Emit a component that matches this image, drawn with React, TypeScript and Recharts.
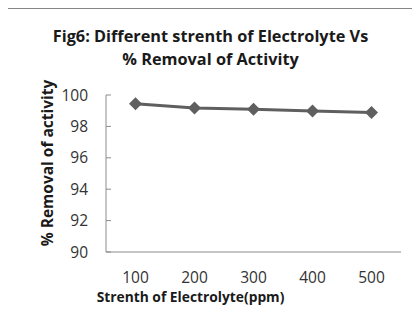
import React from 'react';
import { LineChart, Line, XAxis, YAxis } from 'recharts';

const categories = [100, 200, 300, 400, 500];
const removal = [99.45, 99.17, 99.09, 98.98, 98.88];
const yTicks = [90, 92, 94, 96, 98, 100];
const boundaryTicks = [50, 150, 250, 350, 450, 550];
const titleLines = ['Fig6: Different strenth of Electrolyte Vs', '% Removal of Activity'];
const xTitle = 'Strenth of Electrolyte(ppm)';
const yTitle = '% Removal of activity';

const data = categories.map((c, i) => ({ x: c, y: removal[i] }));

const FONT = '"Open Sans", Lato, sans-serif';
const AXIS = '#8c8c8c';
const LINE = '#5f5f5f';
const TEXT = '#333333';

const Diamond = (props: any) => {
  const { cx, cy } = props;
  if (cx == null || cy == null) return null;
  const r = 6.5;
  return (
    <path
      key={`d-${cx}`}
      d={`M${cx},${cy - r}L${cx + r},${cy}L${cx},${cy + r}L${cx - r},${cy}Z`}
      fill={LINE}
      stroke="none"
    />
  );
};

export default function App() {
  return (
    <div style={{ position: 'relative', width: 420, height: 335, marginLeft: -8, marginTop: -8, overflow: 'hidden', background: '#fff', fontFamily: FONT }}>
      <svg width={420} height={335} style={{ position: 'absolute', left: 0, top: 0 }}>
        <path d="M5.5,332 V8.5 H420" fill="none" stroke="#858585" strokeWidth={1} />
      </svg>
      <div style={{ position: 'absolute', left: 0, top: 0 }}>
        <LineChart width={420} height={335} data={data} margin={{ top: 95, right: 19, bottom: 53, left: 56 }}>
          <XAxis
            xAxisId="a"
            dataKey="x"
            type="number"
            domain={[50, 550]}
            ticks={boundaryTicks}
            tick={false}
            tickSize={6}
            height={1}
            axisLine={{ stroke: AXIS }}
            tickLine={{ stroke: AXIS }}
          />
          <XAxis
            xAxisId="b"
            dataKey="x"
            type="number"
            domain={[50, 550]}
            ticks={categories}
            height={29}
            tickSize={0}
            tickMargin={19}
            axisLine={false}
            tickLine={false}
            tick={{ fill: TEXT, fontSize: 15.5, fontFamily: FONT }}
          />
          <YAxis
            domain={[90, 100]}
            ticks={yTicks}
            width={50}
            tickSize={-5}
            tickMargin={23}
            interval={0}
            axisLine={{ stroke: AXIS }}
            tickLine={{ stroke: AXIS }}
            tick={{ fill: TEXT, fontSize: 15.5, fontFamily: FONT }}
          />
          <Line
            xAxisId="b"
            dataKey="y"
            stroke={LINE}
            strokeWidth={3}
            dot={<Diamond />}
            activeDot={false}
            isAnimationActive={false}
          />
        </LineChart>
      </div>
      <div style={{ position: 'absolute', left: 0, top: 25, width: 421, textAlign: 'center', fontWeight: 700, fontSize: 16.3, lineHeight: '23px', color: '#1a1a1a' }}>
        {titleLines.map((t) => (
          <div key={t}>{t}</div>
        ))}
      </div>
      <div style={{ position: 'absolute', left: 0, top: 286, width: 381, textAlign: 'center', fontWeight: 700, fontSize: 13.8, lineHeight: '21px', color: '#1a1a1a' }}>
        {xTitle}
      </div>
      <div style={{ position: 'absolute', left: 47, top: 163, transform: 'translate(-50%, -50%) rotate(-90deg)', whiteSpace: 'nowrap', fontWeight: 700, fontSize: 15.5, lineHeight: '20px', color: '#1a1a1a' }}>
        {yTitle}
      </div>
    </div>
  );
}
